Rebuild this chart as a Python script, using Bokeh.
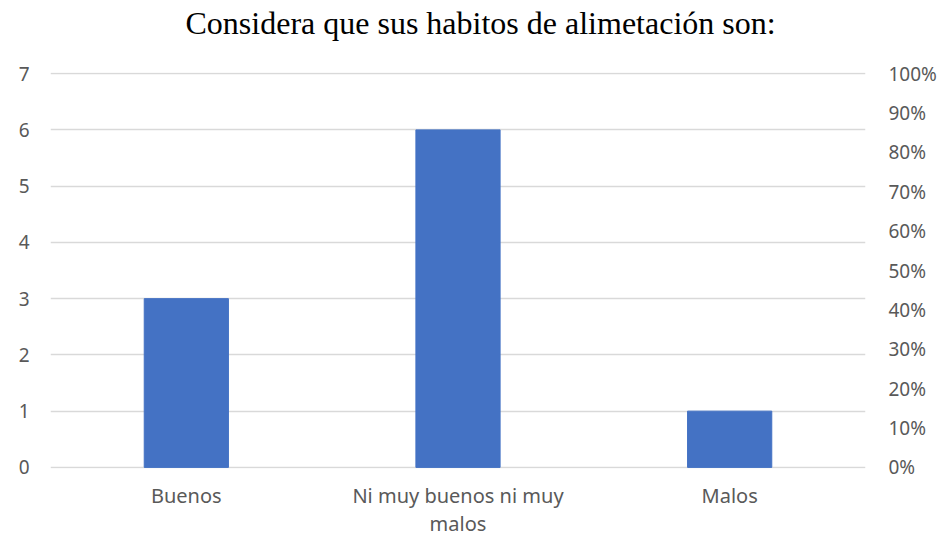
from bokeh.plotting import figure
from bokeh.models import (ColumnDataSource, Range1d, LinearAxis, FixedTicker,
                          NumeralTickFormatter, FactorRange, Title)
from bokeh.embed import file_html
from bokeh.resources import INLINE

categories = ["Buenos", "Ni muy buenos ni muy\nmalos", "Malos"]
values = [3, 6, 1]
left_ticks = [0, 1, 2, 3, 4, 5, 6, 7]
right_ticks = [0, 0.1, 0.2, 0.3, 0.4, 0.5, 0.6, 0.7, 0.8, 0.9, 1.0]
title_text = "Considera que sus habitos de alimetación son:"

source = ColumnDataSource(data=dict(cat=categories, val=values))

p = figure(width=945, height=539, output_backend="svg", toolbar_location=None,
           x_range=FactorRange(factors=categories, range_padding=0),
           y_range=Range1d(-0.02, 7.02),
           min_border_left=50, min_border_right=80, min_border_top=72,
           min_border_bottom=71, tools="")

p.title.text = title_text
p.title.align = "left"
p.title.vertical_align = "bottom"
p.title.text_font = "Liberation Serif"
p.title.text_font_size = "32px"
p.title.text_font_style = "normal"
p.title.text_color = "#000000"
p.title.offset = 135
p.title.standoff = 0

# empty spacer panel between the title and the plot area
spacer = Title(text=" ", text_font_size="1px", standoff=29)
p.add_layout(spacer, "above")

p.vbar(x="cat", top="val", width=0.31, source=source, color="#4472C4")

p.outline_line_color = None
p.xgrid.grid_line_color = None
p.ygrid.grid_line_color = "#D9D9D9"
p.ygrid.grid_line_width = 1.3
p.yaxis.ticker = FixedTicker(ticks=left_ticks)

font = "Noto Sans"
lab_color = "#595959"
size = "19px"

for ax in [p.xaxis[0], p.yaxis[0]]:
    ax.axis_line_color = None
    ax.major_tick_line_color = None
    ax.minor_tick_line_color = None
    ax.major_label_text_font = font
    ax.major_label_text_font_size = size
    ax.major_label_text_color = lab_color

p.xaxis.major_label_text_font_size = "20px"
p.xaxis.major_label_text_line_height = 1.05
p.yaxis.major_label_standoff = 15
p.xaxis.major_label_standoff = 7

p.extra_y_ranges = {"pct": Range1d(-0.02 / 7, 7.02 / 7)}
right = LinearAxis(y_range_name="pct", ticker=FixedTicker(ticks=right_ticks),
                   formatter=NumeralTickFormatter(format="0%"))
right.axis_line_color = None
right.major_tick_line_color = None
right.minor_tick_line_color = None
right.major_label_text_font = font
right.major_label_text_font_size = size
right.major_label_text_color = lab_color
right.major_label_standoff = 17
p.add_layout(right, "right")

open("out.html", "w").write(file_html(p, INLINE))
